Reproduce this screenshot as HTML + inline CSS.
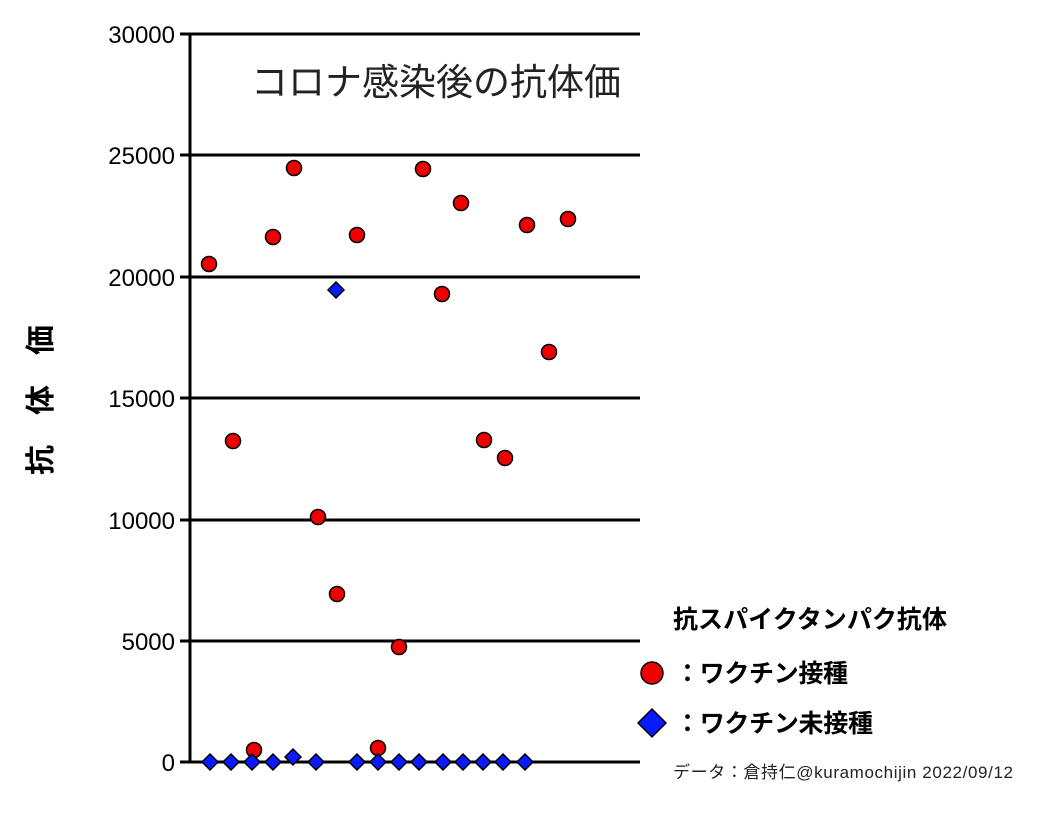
<!DOCTYPE html>
<html><head><meta charset="utf-8"><style>body{margin:0;background:#fff}</style></head><body>
<svg width="1040" height="817" xmlns="http://www.w3.org/2000/svg" font-family="'Liberation Sans','Noto Sans CJK JP',sans-serif">
<g stroke="#000" stroke-width="3">
<line x1="180" y1="34" x2="640" y2="34"/>
<line x1="180" y1="155" x2="640" y2="155"/>
<line x1="180" y1="277" x2="640" y2="277"/>
<line x1="180" y1="398" x2="640" y2="398"/>
<line x1="180" y1="520" x2="640" y2="520"/>
<line x1="180" y1="641" x2="640" y2="641"/>
<line x1="180" y1="762" x2="640" y2="762"/>
<line x1="190" y1="34" x2="190" y2="762"/>
</g>
<g font-size="24" text-anchor="end" fill="#000">
<text x="175" y="43">30000</text><text x="175" y="164">25000</text><text x="175" y="286">20000</text>
<text x="175" y="407">15000</text><text x="175" y="529">10000</text><text x="175" y="650">5000</text><text x="175" y="771">0</text>
</g>
<text x="436" y="95" font-size="37" text-anchor="middle" fill="#222">コロナ感染後の抗体価</text>
<text transform="translate(51,400) rotate(-90)" font-size="30" font-weight="bold" text-anchor="middle">抗　体　価</text>
<g fill="#e00" stroke="#000" stroke-width="1.5">
<circle cx="209" cy="264" r="7.5"/><circle cx="233" cy="441" r="7.5"/><circle cx="254" cy="750" r="7.5"/>
<circle cx="273" cy="237" r="7.5"/><circle cx="294" cy="168" r="7.5"/><circle cx="318" cy="517" r="7.5"/>
<circle cx="337" cy="594" r="7.5"/><circle cx="357" cy="235" r="7.5"/><circle cx="378" cy="748" r="7.5"/>
<circle cx="399" cy="647" r="7.5"/><circle cx="423" cy="169" r="7.5"/><circle cx="442" cy="294" r="7.5"/>
<circle cx="461" cy="203" r="7.5"/><circle cx="484" cy="440" r="7.5"/><circle cx="505" cy="458" r="7.5"/>
<circle cx="527" cy="225" r="7.5"/><circle cx="549" cy="352" r="7.5"/><circle cx="568" cy="219" r="7.5"/>
</g>
<g fill="#0a1aff" stroke="#000" stroke-width="1.5">
<path d="M336 282l8 8-8 8-8-8z"/>
<path d="M210 754l8 8-8 8-8-8z"/><path d="M231 754l8 8-8 8-8-8z"/><path d="M252 754l8 8-8 8-8-8z"/>
<path d="M273 754l8 8-8 8-8-8z"/><path d="M293 749l8 8-8 8-8-8z"/><path d="M316 754l8 8-8 8-8-8z"/>
<path d="M357 754l8 8-8 8-8-8z"/><path d="M378 754l8 8-8 8-8-8z"/><path d="M399 754l8 8-8 8-8-8z"/>
<path d="M419 754l8 8-8 8-8-8z"/><path d="M443 754l8 8-8 8-8-8z"/><path d="M463 754l8 8-8 8-8-8z"/>
<path d="M483 754l8 8-8 8-8-8z"/><path d="M503 754l8 8-8 8-8-8z"/><path d="M525 754l8 8-8 8-8-8z"/>
</g>
<text x="673" y="628" font-size="25" font-weight="bold" textLength="274">抗スパイクタンパク抗体</text>
<circle cx="652" cy="673" r="11" fill="#e00" stroke="#000" stroke-width="1.5"/>
<text x="675" y="682" font-size="25" font-weight="bold" textLength="173">：ワクチン接種</text>
<path d="M652 709l14 14-14 14-14-14z" fill="#0a1aff" stroke="#000" stroke-width="1.5"/>
<text x="675" y="732" font-size="25" font-weight="bold" textLength="198">：ワクチン未接種</text>
<text x="673" y="778" font-size="17" fill="#222" textLength="340">データ：倉持仁@kuramochijin 2022/09/12</text>
</svg>
</body></html>
